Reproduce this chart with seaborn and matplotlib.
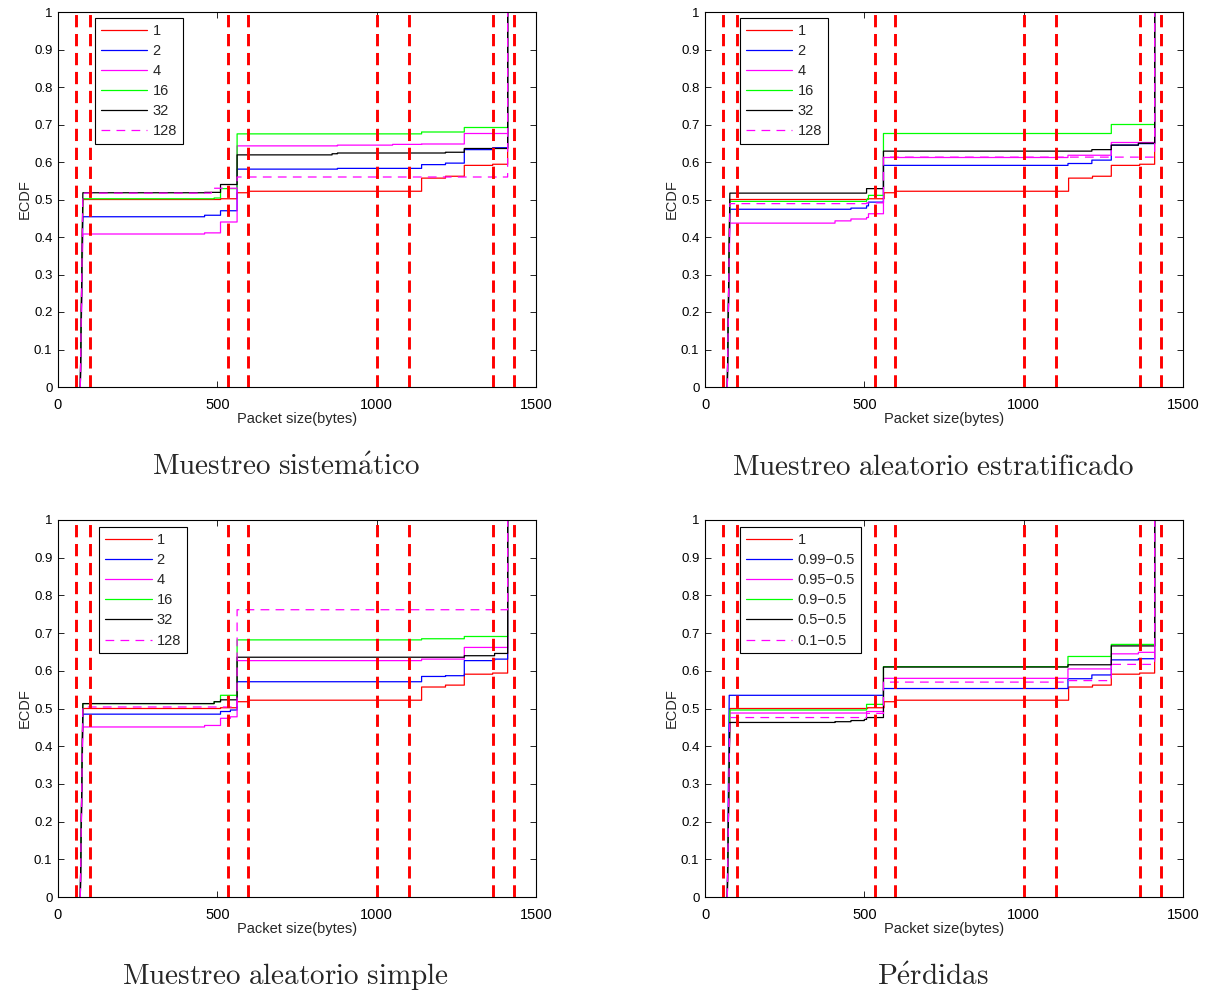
import numpy as np
import pandas as pd
import matplotlib
matplotlib.use("Agg")
import matplotlib.pyplot as plt
import seaborn as sns

# ---------------------------------------------------------------------------
# ECDF breakpoints (packet size in bytes) and cumulative fractions
# ---------------------------------------------------------------------------
# full trace, used as reference "1" in every panel
full_x = [70, 78, 510, 562, 595, 1141, 1216, 1275, 1364, 1411]
full_y = [0, 0.500, 0.502, 0.518, 0.522, 0.557, 0.562, 0.591, 0.594, 1.0]

# systematic sampling
sis_x_2 = [70, 78, 460, 510, 562, 877, 1141, 1216, 1275, 1364, 1411]
sis_y_2 = [0, 0.454, 0.458, 0.470, 0.581, 0.583, 0.593, 0.597, 0.633, 0.638, 1.0]
sis_x_4 = [70, 78, 460, 510, 562, 877, 1050, 1141, 1275, 1411]
sis_y_4 = [0, 0.408, 0.411, 0.440, 0.643, 0.645, 0.647, 0.648, 0.676, 1.0]
sis_x_16 = [70, 78, 490, 510, 562, 1141, 1275, 1411]
sis_y_16 = [0, 0.502, 0.504, 0.529, 0.675, 0.680, 0.692, 1.0]
sis_x_32 = [70, 78, 460, 510, 562, 860, 877, 1216, 1275, 1411]
sis_y_32 = [0, 0.518, 0.519, 0.540, 0.619, 0.622, 0.624, 0.626, 0.636, 1.0]
sis_x_128 = [70, 78, 481, 562, 1411]
sis_y_128 = [0, 0.517, 0.530, 0.560, 1.0]

# stratified random sampling
est_x_2 = [70, 78, 458, 507, 513, 560, 1139, 1214, 1275, 1360, 1411]
est_y_2 = [0, 0.474, 0.477, 0.483, 0.493, 0.591, 0.596, 0.605, 0.645, 0.649, 1.0]
est_x_4 = [70, 78, 408, 458, 507, 513, 560, 1139, 1275, 1411]
est_y_4 = [0, 0.437, 0.443, 0.448, 0.452, 0.462, 0.612, 0.618, 0.652, 1.0]
est_x_16 = [70, 78, 507, 513, 560, 1275, 1411]
est_y_16 = [0, 0.495, 0.500, 0.511, 0.676, 0.700, 1.0]
est_x_32 = [70, 78, 507, 560, 1214, 1275, 1360, 1411]
est_y_32 = [0, 0.517, 0.529, 0.629, 0.633, 0.645, 0.650, 1.0]
est_x_128 = [70, 78, 507, 560, 1411]
est_y_128 = [0, 0.489, 0.491, 0.613, 1.0]

# simple random sampling
sim_x_2 = [70, 78, 510, 541, 562, 1141, 1216, 1275, 1370, 1411]
sim_y_2 = [0, 0.485, 0.492, 0.496, 0.571, 0.585, 0.587, 0.627, 0.631, 1.0]
sim_x_4 = [70, 78, 460, 510, 541, 562, 1141, 1275, 1411]
sim_y_4 = [0, 0.451, 0.455, 0.474, 0.478, 0.627, 0.631, 0.662, 1.0]
sim_x_16 = [70, 78, 490, 510, 562, 1141, 1275, 1411]
sim_y_16 = [0, 0.513, 0.518, 0.535, 0.682, 0.685, 0.691, 1.0]
sim_x_32 = [70, 78, 490, 510, 562, 1275, 1370, 1411]
sim_y_32 = [0, 0.513, 0.518, 0.523, 0.636, 0.640, 0.646, 1.0]
sim_x_128 = [70, 78, 562, 1411]
sim_y_128 = [0, 0.504, 0.762, 1.0]

# packet losses
per_x_99 = [70, 76, 560, 1139, 1214, 1275, 1360, 1411]
per_y_99 = [0, 0.535, 0.553, 0.579, 0.589, 0.629, 0.632, 1.0]
per_x_95 = [70, 78, 507, 560, 1139, 1275, 1360, 1411]
per_y_95 = [0, 0.488, 0.492, 0.580, 0.605, 0.645, 0.649, 1.0]
per_x_90 = [70, 78, 507, 560, 1139, 1275, 1411]
per_y_90 = [0, 0.496, 0.511, 0.611, 0.638, 0.670, 1.0]
per_x_50 = [70, 78, 408, 458, 500, 507, 560, 1139, 1275, 1411]
per_y_50 = [0, 0.463, 0.465, 0.468, 0.471, 0.476, 0.610, 0.616, 0.666, 1.0]
per_x_10 = [70, 78, 507, 560, 1139, 1275, 1411]
per_y_10 = [0, 0.476, 0.487, 0.570, 0.574, 0.617, 1.0]

# packet-size class boundaries (red dashed markers)
boundaries = [58, 100, 534, 595, 1002, 1102, 1364, 1432]

rate_labels = ["1", "2", "4", "16", "32", "128"]
loss_labels = ["1", "0.99\u22120.5", "0.95\u22120.5", "0.9\u22120.5",
               "0.5\u22120.5", "0.1\u22120.5"]
titles = [r"$\mathrm{Muestreo\ sistem\acute{a}tico}$",
          r"$\mathrm{Muestreo\ aleatorio\ estratificado}$",
          r"$\mathrm{Muestreo\ aleatorio\ simple}$",
          r"$\mathrm{P\acute{e}rdidas}$"]

xticks = [0, 500, 1000, 1500]
yticks = [0, 0.1, 0.2, 0.3, 0.4, 0.5, 0.6, 0.7, 0.8, 0.9, 1.0]
ytick_labels = ["0", "0.1", "0.2", "0.3", "0.4", "0.5", "0.6", "0.7",
                "0.8", "0.9", "1"]

series_colors = ["#ff0000", "#0000ff", "#ff00ff", "#00ff00", "#000000", "#ff00ff"]
series_dashed = [False, False, False, False, False, True]

# ---------------------------------------------------------------------------
sns.set_theme(style="ticks")
plt.rcParams["font.family"] = ["Liberation Sans", "DejaVu Sans"]
plt.rcParams["mathtext.fontset"] = "cm"
plt.rcParams["axes.unicode_minus"] = False

FS = 10.5


def stair(xs, ys):
    """Stair-case vertices; the first rise is a straight segment."""
    vx, vy = [xs[0], xs[1]], [ys[0], ys[1]]
    for i in range(2, len(xs)):
        vx += [xs[i], xs[i]]
        vy += [ys[i - 1], ys[i]]
    return pd.DataFrame({"x": vx, "y": vy})


panels = [
    ([(full_x, full_y), (sis_x_2, sis_y_2), (sis_x_4, sis_y_4),
      (sis_x_16, sis_y_16), (sis_x_32, sis_y_32), (sis_x_128, sis_y_128)],
     rate_labels),
    ([(full_x, full_y), (est_x_2, est_y_2), (est_x_4, est_y_4),
      (est_x_16, est_y_16), (est_x_32, est_y_32), (est_x_128, est_y_128)],
     rate_labels),
    ([(full_x, full_y), (sim_x_2, sim_y_2), (sim_x_4, sim_y_4),
      (sim_x_16, sim_y_16), (sim_x_32, sim_y_32), (sim_x_128, sim_y_128)],
     rate_labels),
    ([(full_x, full_y), (per_x_99, per_y_99), (per_x_95, per_y_95),
      (per_x_90, per_y_90), (per_x_50, per_y_50), (per_x_10, per_y_10)],
     loss_labels),
]

W, H = 1211, 994
fig = plt.figure(figsize=(W / 100, H / 100), dpi=100)

# axes boxes in pixels: left, top, right, bottom
boxes = [(58, 12, 536, 387), (705, 12, 1183, 387),
         (58, 520, 536, 897), (705, 520, 1183, 897)]
legend_anchor = [(0.077, 0.984), (0.073, 0.984), (0.086, 0.981), (0.073, 0.981)]

for k, ((series, labels), (l, t, r, b)) in enumerate(zip(panels, boxes)):
    ax = fig.add_axes([l / W, 1 - b / H, (r - l) / W, (b - t) / H])
    ax.set_facecolor("white")
    handles = []
    for (xs, ys), lab, col, dsh in zip(series, labels, series_colors, series_dashed):
        df = stair(xs, ys)
        sns.lineplot(data=df, x="x", y="y", ax=ax, sort=False, estimator=None,
                     color=col, linewidth=0.9, legend=False)
        line = ax.lines[-1]
        line.set_label(lab)
        if dsh:
            line.set_dashes((7, 5))
        handles.append(line)
    for xb in boundaries:
        ax.axvline(xb, color="#ff0000", linewidth=2.1, dashes=(4.2, 2.3), zorder=5)

    ax.set_xlim(0, 1500)
    ax.set_ylim(0, 1)
    ax.set_xticks(xticks)
    ax.set_xticklabels([str(v) for v in xticks])
    ax.set_yticks(yticks)
    ax.set_yticklabels(ytick_labels)
    ax.tick_params(direction="in", top=True, right=True, length=4, width=0.6,
                   colors="black")
    ax.tick_params(axis="x", pad=8, labelsize=FS)
    ax.tick_params(axis="y", pad=4, labelsize=9.5)
    for sp in ax.spines.values():
        sp.set_visible(True)
        sp.set_linewidth(0.8)
        sp.set_color("black")
    ax.set_xlabel("Packet size(bytes)", fontsize=FS, labelpad=0)
    ax.set_ylabel("ECDF", fontsize=FS)
    ax.yaxis.set_label_coords(-26 / (r - l), 0.5)

    leg = ax.legend(handles=handles, labels=labels, loc="upper left",
                    bbox_to_anchor=legend_anchor[k],
                    borderaxespad=0, fontsize=FS, handlelength=3.2,
                    handletextpad=0.35, labelspacing=0.42, borderpad=0.4,
                    fancybox=False, framealpha=1, edgecolor="black")
    leg.get_frame().set_linewidth(0.8)
    leg.set_zorder(10)

    cx = ((l + r) / 2 - 11) / W
    cy = 1 - (b + 80) / H
    fig.text(cx, cy, titles[k], ha="center", va="center", fontsize=21)

fig.savefig("out.png", dpi=100, facecolor="white")
